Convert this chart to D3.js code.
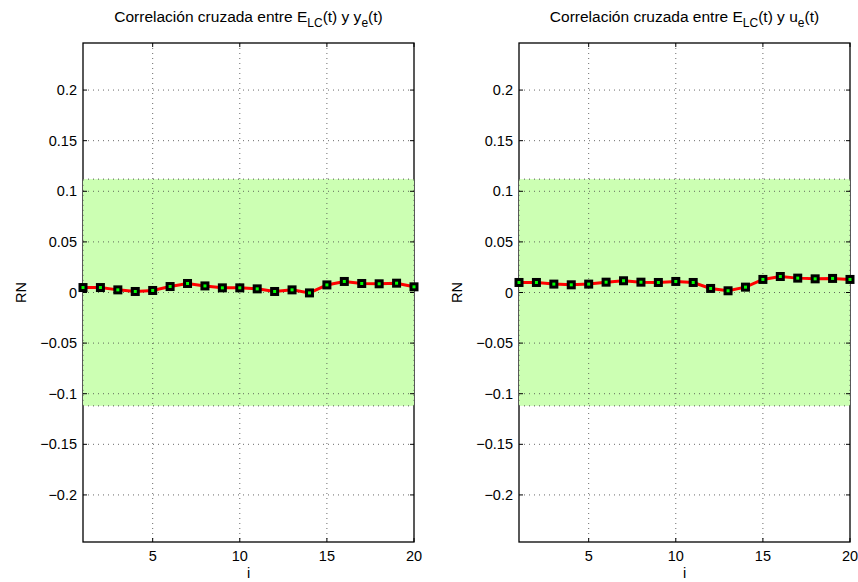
<!DOCTYPE html>
<html><head><meta charset="utf-8">
<script src="https://cdnjs.cloudflare.com/ajax/libs/d3/7.8.5/d3.min.js"></script>
<style>body{margin:0;background:#fff}svg{display:block;font-family:"Liberation Sans",Arial,sans-serif}</style>
</head><body>
<svg id="c" width="858" height="582"></svg>
<script>
const lags = d3.range(1, 21);
const seriesY = [0.0049,0.0049,0.0026,0.0010,0.0020,0.0059,0.0089,0.0065,0.0046,0.0046,0.0036,0.0010,0.0026,-0.0004,0.0075,0.0109,0.0089,0.0086,0.0092,0.0056];
const seriesU = [0.0099,0.0099,0.0083,0.0076,0.0083,0.0102,0.0116,0.0102,0.0099,0.0109,0.0099,0.0040,0.0017,0.0053,0.0129,0.0158,0.0142,0.0135,0.0139,0.0129];
const bandLimit = 0.112;
const yTicks = [-0.2,-0.15,-0.1,-0.05,0,0.05,0.1,0.15,0.2];
const xTicks = [5,10,15,20];
const yDomain = [-0.2465, 0.2465];
const xDomain = [1, 20];

const svg = d3.select("#c");
const panels = [
  {x0:83, x1:414, data:seriesY, sub2:"y"},
  {x0:519, x1:850, data:seriesU, sub2:"u"}
];
const plotTop = 43, plotBottom = 542;
const fmt = v => v === 0 ? "0" : (v < 0 ? "\u2212" : "") + String(Math.abs(v));

panels.forEach(p => {
  const x = d3.scaleLinear().domain(xDomain).range([p.x0, p.x1]);
  const y = d3.scaleLinear().domain(yDomain).range([plotBottom, plotTop]);
  const g = svg.append("g");
  g.append("rect").attr("x", p.x0).attr("y", plotTop).attr("width", p.x1-p.x0).attr("height", plotBottom-plotTop)
    .attr("fill", "none").attr("stroke", "#000").attr("stroke-width", 1.3);
  g.append("rect").attr("x", x(xDomain[0])).attr("y", y(bandLimit))
    .attr("width", x(xDomain[1]) - x(xDomain[0])).attr("height", y(-bandLimit) - y(bandLimit))
    .attr("fill", "#ccffb3");
  [[xDomain[0],xDomain[1],bandLimit,bandLimit],[xDomain[0],xDomain[1],-bandLimit,-bandLimit],
   [xDomain[0],xDomain[0],-bandLimit,bandLimit],[xDomain[1],xDomain[1],-bandLimit,bandLimit]].forEach(s => {
    g.append("line").attr("x1", x(s[0])).attr("x2", x(s[1])).attr("y1", y(s[2])).attr("y2", y(s[3]))
      .attr("stroke", "#555").attr("stroke-width", 1).attr("stroke-dasharray", "1,4");
  });
  yTicks.forEach(t => {
    g.append("line").attr("x1", p.x0).attr("x2", p.x1).attr("y1", y(t)).attr("y2", y(t))
      .attr("stroke", "#444").attr("stroke-width", 0.8).attr("stroke-dasharray", "1,4");
  });
  xTicks.filter(t => t < xDomain[1]).forEach(t => {
    g.append("line").attr("x1", x(t)).attr("x2", x(t)).attr("y1", plotTop).attr("y2", plotBottom)
      .attr("stroke", "#444").attr("stroke-width", 0.8).attr("stroke-dasharray", "1,4");
  });
  yTicks.forEach(t => {
    g.append("line").attr("x1", p.x0).attr("x2", p.x0+4).attr("y1", y(t)).attr("y2", y(t)).attr("stroke", "#000");
    g.append("line").attr("x1", p.x1-4).attr("x2", p.x1).attr("y1", y(t)).attr("y2", y(t)).attr("stroke", "#000");
    g.append("text").attr("x", p.x0-6).attr("y", y(t)+5).attr("text-anchor", "end")
      .attr("font-size", 14.5).text(fmt(t));
  });
  xTicks.forEach(t => {
    g.append("line").attr("x1", x(t)).attr("x2", x(t)).attr("y1", plotBottom).attr("y2", plotBottom-4).attr("stroke", "#000");
    g.append("line").attr("x1", x(t)).attr("x2", x(t)).attr("y1", plotTop).attr("y2", plotTop+4).attr("stroke", "#000");
    g.append("text").attr("x", x(t)).attr("y", plotBottom+19).attr("text-anchor", "middle")
      .attr("font-size", 14.5).text(t);
  });
  const line = d3.line().x((d,i) => x(lags[i])).y(d => y(d));
  g.append("path").datum(p.data).attr("d", line).attr("fill", "none").attr("stroke", "#ff0000").attr("stroke-width", 3);
  g.selectAll(".m").data(p.data).enter().append("rect")
    .attr("x", (d,i) => x(lags[i]) - 3).attr("y", d => y(d) - 3).attr("width", 6).attr("height", 6)
    .attr("fill", "#00ff00").attr("stroke", "#000").attr("stroke-width", 3);
  g.append("text").attr("x", (p.x0+p.x1)/2).attr("y", 578).attr("text-anchor", "middle").attr("font-size", 14.5).text("i");
  g.append("text").attr("transform", `translate(${p.x0-57},${(plotTop+plotBottom)/2}) rotate(-90)`)
    .attr("text-anchor", "middle").attr("font-size", 14.5).text("RN");
  const title = g.append("text").attr("x", (p.x0+p.x1)/2).attr("y", 22).attr("text-anchor", "middle").attr("font-size", 15.5);
  title.append("tspan").text("Correlación cruzada entre E");
  title.append("tspan").attr("font-size", 12).attr("dy", 5).text("LC");
  title.append("tspan").attr("dy", -5).text("(t) y " + p.sub2);
  title.append("tspan").attr("font-size", 12).attr("dy", 5).text("e");
  title.append("tspan").attr("dy", -5).text("(t)");
});
</script>
</body></html>
